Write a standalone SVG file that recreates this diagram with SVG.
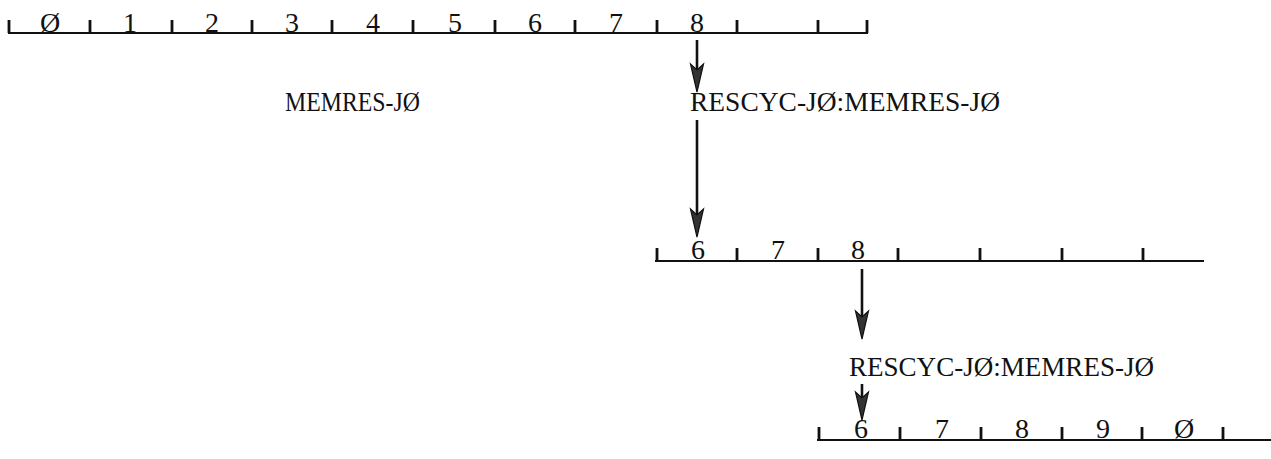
<svg xmlns="http://www.w3.org/2000/svg" width="1271" height="459" viewBox="0 0 1271 459">
  <style>
    .axis { stroke: #111; stroke-width: 2.2; fill: none; }
    .tick { stroke: #111; stroke-width: 2.8; stroke-linecap: butt; }
    .num { font-family: "Liberation Serif", "DejaVu Serif", serif; font-size: 28px; fill: #111; text-anchor: middle; }
    .lbl { font-family: "Liberation Serif", "DejaVu Serif", serif; font-size: 27px; fill: #111; }
    .conn { stroke: #111; stroke-width: 2.6; fill: none; }
    .head { fill: #333; stroke: #111; stroke-width: 1.2; stroke-linejoin: miter; }
  </style>
  <defs>
    <!-- narrow downward arrowhead, tip at (0,0) -->
    <path id="ah" d="M0,0 L-6.5,-28 L0,-22 L6.5,-28 Z"/>
  </defs>

  <!-- upper cycle scale -->
  <g id="scale-top">
    <line class="axis" x1="8" y1="33" x2="868" y2="33"/>
    <g class="tick">
      <line x1="9" y1="20" x2="9" y2="33"/>
      <line x1="90" y1="20" x2="90" y2="33"/>
      <line x1="172" y1="20" x2="172" y2="33"/>
      <line x1="252" y1="20" x2="252" y2="33"/>
      <line x1="332" y1="20" x2="332" y2="33"/>
      <line x1="413" y1="20" x2="413" y2="33"/>
      <line x1="495" y1="20" x2="495" y2="33"/>
      <line x1="575" y1="20" x2="575" y2="33"/>
      <line x1="657" y1="20" x2="657" y2="33"/>
      <line x1="737" y1="20" x2="737" y2="33"/>
      <line x1="818" y1="20" x2="818" y2="33"/>
      <line x1="867" y1="20" x2="867" y2="33"/>
    </g>
    <text class="num" x="50" y="32">Ø</text>
    <text class="num" x="130" y="32">1</text>
    <text class="num" x="212" y="32">2</text>
    <text class="num" x="292" y="32">3</text>
    <text class="num" x="373" y="32">4</text>
    <text class="num" x="455" y="32">5</text>
    <text class="num" x="535" y="32">6</text>
    <text class="num" x="616" y="32">7</text>
    <text class="num" x="697" y="32">8</text>
  </g>

  <g id="memres">
    <text class="lbl" x="285" y="111" textLength="135" lengthAdjust="spacingAndGlyphs">MEMRES-JØ</text>
  </g>

  <g id="rescyc-1">
    <text class="lbl" x="690" y="111" textLength="310" lengthAdjust="spacingAndGlyphs">RESCYC-JØ:MEMRES-JØ</text>
  </g>

  <!-- middle cycle scale -->
  <g id="scale-mid">
    <line class="axis" x1="655" y1="261" x2="1204" y2="261"/>
    <g class="tick">
      <line x1="657" y1="248" x2="657" y2="261"/>
      <line x1="737" y1="248" x2="737" y2="261"/>
      <line x1="818" y1="248" x2="818" y2="261"/>
      <line x1="898" y1="248" x2="898" y2="261"/>
      <line x1="980" y1="248" x2="980" y2="261"/>
      <line x1="1062" y1="248" x2="1062" y2="261"/>
      <line x1="1143" y1="248" x2="1143" y2="261"/>
    </g>
    <text class="num" x="698" y="259">6</text>
    <text class="num" x="778" y="259">7</text>
    <text class="num" x="858" y="259">8</text>
  </g>

  <g id="rescyc-2">
    <text class="lbl" x="849" y="376" textLength="305" lengthAdjust="spacingAndGlyphs">RESCYC-JØ:MEMRES-JØ</text>
  </g>

  <!-- lower cycle scale -->
  <g id="scale-bottom">
    <line class="axis" x1="817" y1="440" x2="1271" y2="440"/>
    <g class="tick">
      <line x1="819" y1="427" x2="819" y2="440"/>
      <line x1="900" y1="427" x2="900" y2="440"/>
      <line x1="981" y1="427" x2="981" y2="440"/>
      <line x1="1062" y1="427" x2="1062" y2="440"/>
      <line x1="1142" y1="427" x2="1142" y2="440"/>
      <line x1="1223" y1="427" x2="1223" y2="440"/>
    </g>
    <text class="num" x="861" y="438">6</text>
    <text class="num" x="942" y="438">7</text>
    <text class="num" x="1022" y="438">8</text>
    <text class="num" x="1103" y="438">9</text>
    <text class="num" x="1184" y="438">Ø</text>
  </g>

  <!-- connectors -->
  <g id="connectors">
    <line class="conn" x1="697" y1="40" x2="697" y2="75"/>
    <use href="#ah" class="head" x="697" y="92"/>
    <line class="conn" x1="697" y1="120" x2="697" y2="220"/>
    <use href="#ah" class="head" x="697" y="237"/>
    <line class="conn" x1="862" y1="269" x2="862" y2="322"/>
    <use href="#ah" class="head" x="862" y="339"/>
    <line class="conn" x1="862" y1="384" x2="862" y2="403"/>
    <use href="#ah" class="head" x="862" y="420"/>
  </g>
</svg>
